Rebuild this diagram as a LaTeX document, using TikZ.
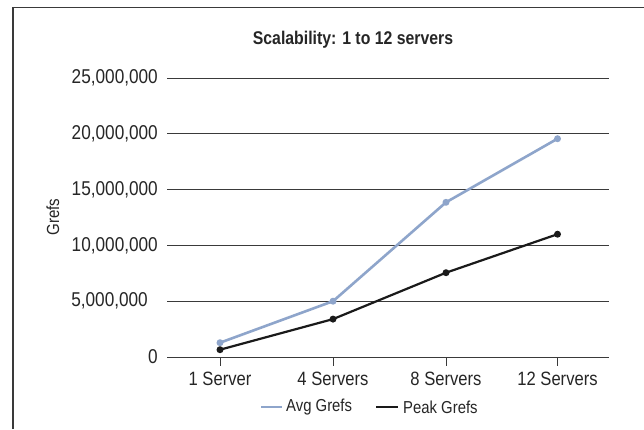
\documentclass[tikz,border=0pt]{standalone}
\usepackage{fontspec}
\setmainfont{Liberation Sans}[FakeStretch=0.86]
\definecolor{avgc}{HTML}{8EA5CB}
\definecolor{peakc}{HTML}{1A1A1A}
\definecolor{gridc}{HTML}{3A3A3A}
\definecolor{txtc}{HTML}{262626}
\begin{document}
\begin{tikzpicture}[x=1pt,y=-1pt,
  gridline/.style={draw=gridc,line width=1pt},
  ylab/.style={anchor=east,inner sep=0pt,font=\fontsize{20}{20}\selectfont,text=txtc},
  xlab/.style={anchor=center,inner sep=0pt,font=\fontsize{19.3}{19.3}\selectfont,text=txtc},
  leglab/.style={anchor=west,inner sep=0pt,font=\fontsize{17.3}{17.3}\selectfont,text=txtc},
  avgline/.style={draw=avgc,line width=2.6pt},
  peakline/.style={draw=peakc,line width=2.2pt},
  avgdot/.style={circle,fill=avgc,inner sep=0pt,minimum size=7pt},
  peakdot/.style={circle,fill=peakc,inner sep=0pt,minimum size=7pt}]
\useasboundingbox (0,0) rectangle (644,429);
\fill[white] (0,0) rectangle (644,429);
% frame
\coordinate (fa) at (13,429);
\coordinate (fb) at (13,7.5);
\coordinate (fc) at (644,7.5);
\draw[draw=gridc,line width=1.6pt] (fa) -- (fb) -- (fc);
% title
\node[inner sep=0pt,font=\fontsize{18.4}{18.4}\selectfont\bfseries,text=txtc] (title) at (353,40) {Scalability: 1 to 12 servers};
% gridlines
\foreach \v/\y in {0/357,1/301.2,2/245.4,3/189.6,4/133.8,5/78}{
  \coordinate (gl\v) at (167,\y);
  \coordinate (gr\v) at (609,\y);
  \draw[gridline] (gl\v) -- (gr\v);
}
% y labels
\node[ylab] (y0) at (158,357) {0};
\node[ylab] (y1) at (148,301.2) {5,000,000};
\node[ylab] (y2) at (158,245.4) {10,000,000};
\node[ylab] (y3) at (158,189.6) {15,000,000};
\node[ylab] (y4) at (158,133.8) {20,000,000};
\node[ylab] (y5) at (158,78) {25,000,000};
\node[rotate=90,inner sep=0pt,font=\fontsize{17.5}{17.5}\selectfont,text=txtc] (yaxis) at (53,217) {Grefs};
% ticks and x labels
\foreach \i/\x/\t in {1/220/1 Server,2/333/4 Servers,3/446/8 Servers,4/557.5/12 Servers}{
  \coordinate (ta\i) at (\x,357);
  \coordinate (tb\i) at (\x,366);
  \draw[gridline] (ta\i) -- (tb\i);
  \node[xlab] (xl\i) at (\x,379) {\t};
}
% data
\node[avgdot] (a1) at (220,342.7) {};
\node[avgdot] (a2) at (333,301.2) {};
\node[avgdot] (a3) at (446,202.3) {};
\node[avgdot] (a4) at (557.5,138.7) {};
\node[peakdot] (p1) at (220,349.7) {};
\node[peakdot] (p2) at (333,319.1) {};
\node[peakdot] (p3) at (446,272.7) {};
\node[peakdot] (p4) at (557.5,234.2) {};
\draw[avgline] (a1.center) -- (a2.center) -- (a3.center) -- (a4.center);
\draw[peakline] (p1.center) -- (p2.center) -- (p3.center) -- (p4.center);
% legend
\coordinate (la1) at (261,407);
\coordinate (la2) at (282,407);
\draw[avgline,line width=2.4pt] (la1) -- (la2);
\node[leglab] (lat) at (286,407) {Avg Grefs};
\coordinate (lp1) at (376,407);
\coordinate (lp2) at (398,407);
\draw[peakline] (lp1) -- (lp2);
\node[leglab] (lpt) at (403,407) {Peak Grefs};
\end{tikzpicture}
\end{document}
